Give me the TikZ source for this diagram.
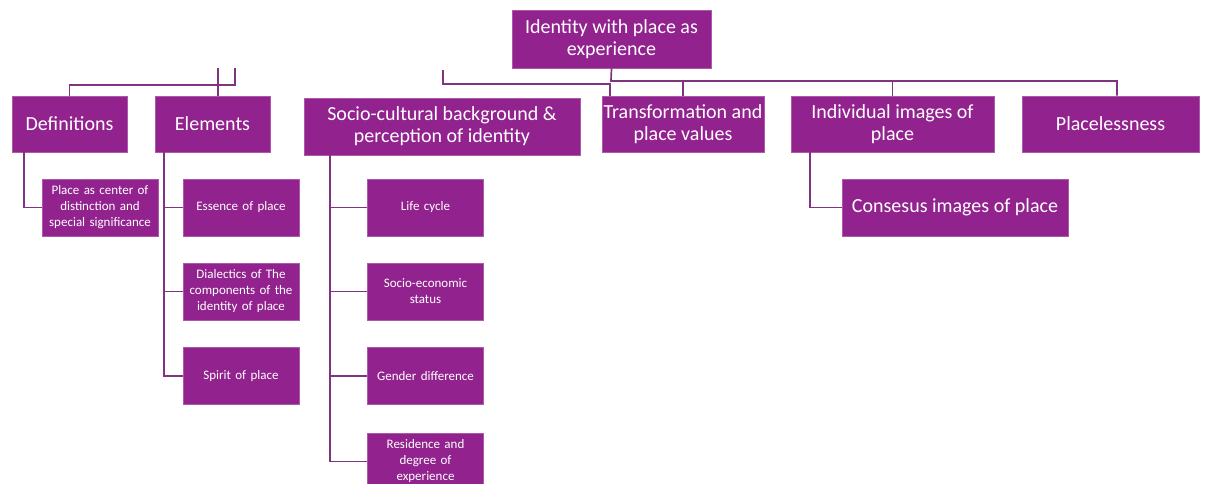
\documentclass[tikz,border=0pt]{standalone}
\usepackage{fontspec}
\setmainfont{Carlito}
\usetikzlibrary{positioning}

\definecolor{placepurple}{RGB}{146,34,142}
\definecolor{linkpurple}{RGB}{128,52,128}

\tikzset{
  headbox/.style={fill=placepurple, draw=placepurple!75!white, line width=0.8pt,
    text=white, align=center, inner sep=1pt,
    font=\fontsize{20}{22}\selectfont},
  subbox/.style={headbox, minimum width=116pt, minimum height=57pt,
    text width=114pt, font=\fontsize{13}{16}\selectfont},
  link/.style={draw=linkpurple, line width=1.7pt}
}

\begin{document}
\begin{tikzpicture}[x=1pt, y=-1pt]
            \useasboundingbox (0,0) rectangle (1209,484);

            % Draw main levels
            \node[headbox, minimum width=199pt, minimum height=58pt] (root) at (611.5,39) {Identity with place as\\experience};
            \node[headbox, minimum width=115pt, minimum height=56pt] (defs) at (69.5,124) {Definitions};
            \node[headbox, minimum width=115pt, minimum height=56pt] (elems) at (212.5,124) {Elements};
            \node[headbox, minimum width=276pt, minimum height=57pt] (socio) at (442,126.5) {Socio-cultural background \&\\perception of identity};
            \node[headbox, minimum width=162pt, minimum height=56pt] (transf) at (683,124) {Transformation and\\place values};
            \node[headbox, minimum width=203pt, minimum height=56pt] (indiv) at (892.5,124) {Individual images of\\place};
            \node[headbox, minimum width=177pt, minimum height=56pt] (placeless) at (1110.5,124) {Placelessness};

            % Add sub levels
            \node[subbox] (centre) at (100,207.5) {Place as center of\\distinction and\\special significance};
            \node[subbox] (essence) at (241,207.5) {Essence of place};
            \node[subbox] (dialectics) at (241,291.5) {Dialectics of The\\components of the\\identity of place};
            \node[subbox] (spirit) at (241,376) {Spirit of place};
            \node[subbox] (life) at (425.5,207.5) {Life cycle};
            \node[subbox] (status) at (425.5,291.5) {Socio-economic\\status};
            \node[subbox] (gender) at (425.5,376) {Gender difference};
            \node[subbox] (residence) at (425.5,461.5) {Residence and\\degree of\\experience};
            \node[headbox, minimum width=226pt, minimum height=57pt] (consensus) at (955,207.5) {Consesus images of place};

            % Connect root to the right branches
            \coordinate (bus) at (611,81);
            \draw[link] (root.south) -- (bus) -| ([xshift=6.5]placeless.north);
            \draw[link] (transf.north) -- (transf.north |- bus);
            \draw[link] (indiv.north) -- (indiv.north |- bus);
            \coordinate (sociotop) at (443,70);
            \draw[link] (sociotop) |- (610,84) -- ([xshift=-73]transf.north);

            % Connect left branches
            \coordinate (elemtop) at (218,68);
            \coordinate (defstop) at (235,68);
            \draw[link] (elemtop) -- ([xshift=5.5]elems.north);
            \draw[link] (defstop) |- (69.5,85) -- (defs.north);

            % Connect children
            \draw[link] ([xshift=-45.5]defs.south) |- (centre.west);
            \foreach \n in {essence,dialectics,spirit}
              \draw[link] ([xshift=-48.5]elems.south) |- (\n.west);
            \foreach \n in {life,status,gender,residence}
              \draw[link] ([xshift=-112]socio.south) |- (\n.west);
            \draw[link] ([xshift=-82.5]indiv.south) |- (consensus.west);
        \end{tikzpicture}
\end{document}
